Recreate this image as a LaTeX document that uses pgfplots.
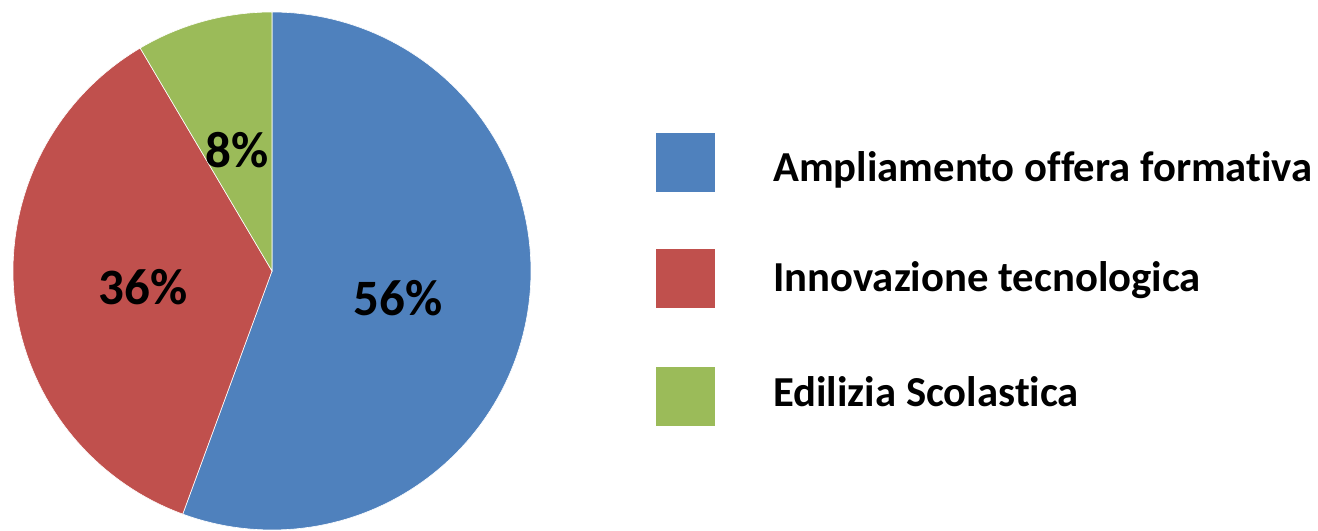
\documentclass[border=0pt]{standalone}
\usepackage{pgfplots}
\pgfplotsset{compat=1.18}
\usepackage{fontspec}
\setmainfont[Ligatures=NoCommon]{Carlito}
\definecolor{pieblue}{HTML}{4F81BD}
\definecolor{piered}{HTML}{C0504D}
\definecolor{piegreen}{HTML}{9BBB59}
\begin{document}
\begin{tikzpicture}
% slice values (percent)
\def\va{55.6}\def\vb{35.9}\def\vc{8.5}
\pgfmathsetmacro{\aA}{90}
\pgfmathsetmacro{\aB}{90-3.6*\va}
\pgfmathsetmacro{\aC}{\aB-3.6*\vb}
\pgfmathsetmacro{\aD}{\aC-3.6*\vc}
\begin{axis}[hide axis, x=1pt, y=1pt, xmin=0, xmax=1318, ymin=0, ymax=529,
  scale only axis, clip=false]
\path (axis cs:0,0) rectangle (axis cs:1318,529);
\addplot[fill=pieblue, draw=white, line width=0.6pt, domain=\aB:\aA, samples=120]
  ({272+259*cos(x)},{258+259*sin(x)}) -- (axis cs:272,258) -- cycle;
\addplot[fill=piered, draw=white, line width=0.6pt, domain=\aC:\aB, samples=100]
  ({272+259*cos(x)},{258+259*sin(x)}) -- (axis cs:272,258) -- cycle;
\addplot[fill=piegreen, draw=white, line width=0.6pt, domain=\aD:\aC, samples=40]
  ({272+259*cos(x)},{258+259*sin(x)}) -- (axis cs:272,258) -- cycle;
\node[font=\fontsize{51}{53}\selectfont\bfseries] at (axis cs:398,231) {56\%};
\node[font=\fontsize{51}{53}\selectfont\bfseries] at (axis cs:143,242) {36\%};
\node[font=\fontsize{51}{53}\selectfont\bfseries] at (axis cs:237,379) {8\%};
\addplot[only marks, mark=square*, mark size=29pt, color=pieblue] coordinates {(685,367)};
\addplot[only marks, mark=square*, mark size=29pt, color=piered] coordinates {(685,251)};
\addplot[only marks, mark=square*, mark size=29pt, color=piegreen] coordinates {(685,133)};
\node[anchor=west, inner sep=0pt, font=\fontsize{42.7}{44}\selectfont\bfseries] at (axis cs:773,359) {Ampliamento offera formativa};
\node[anchor=west, inner sep=0pt, font=\fontsize{42.7}{44}\selectfont\bfseries] at (axis cs:773,249) {Innovazione tecnologica};
\node[anchor=west, inner sep=0pt, font=\fontsize{42.7}{44}\selectfont\bfseries] at (axis cs:773,137) {Edilizia Scolastica};
\end{axis}
\end{tikzpicture}
\end{document}
